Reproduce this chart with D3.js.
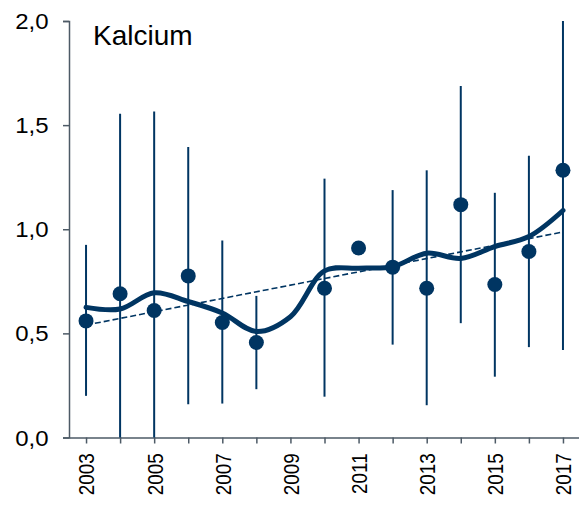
<!DOCTYPE html>
<html>
<head>
<meta charset="utf-8">
<script src="https://cdn.jsdelivr.net/npm/d3@7"></script>
<style>
  body { margin: 0; background: #fff; }
  text { font-family: Arial, "Liberation Sans", sans-serif; }
</style>
</head>
<body>
<div id="chart"></div>
<script>
// data
const years = [2003, 2004, 2005, 2006, 2007, 2008, 2010, 2011, 2012, 2013, 2014, 2015, 2016, 2017];
const means = [0.56, 0.69, 0.61, 0.776, 0.552, 0.456, 0.717, 0.91, 0.818, 0.717, 1.118, 0.735, 0.893, 1.283];
const upper = [0.925, 1.555, 1.566, 1.395, 0.946, 0.68, 1.243, null, 1.188, 1.283, 1.688, 1.175, 1.353, 2.0];
const lower = [0.20, 0, 0, 0.16, 0.163, 0.232, 0.196, null, 0.446, 0.155, 0.549, 0.292, 0.434, 0.42];

const smoothYears = [2003, 2004, 2005, 2006, 2007, 2008, 2009, 2010, 2011, 2012, 2013, 2014, 2015, 2016, 2017];
const smoothVals = [0.625, 0.617, 0.695, 0.653, 0.598, 0.509, 0.58, 0.80, 0.813, 0.82, 0.885, 0.86, 0.917, 0.965, 1.09];

const trendYears = [2003, 2017];
const trendVals = [0.54, 0.987];

const yTicks = [0, 0.5, 1.0, 1.5, 2.0];
const xTicks = d3.range(2003, 2018);
const xLabels = [2003, 2005, 2007, 2009, 2011, 2013, 2015, 2017];

// config
const width = 579;
const height = 506;
const navy = "#003562";
const axisColor = "#4d5a66";
const squeeze = 0.84; // year labels look narrower than the y labels

const x = d3.scaleLinear().domain([2002.5, 2017.5]).range([69, 580]);
const y = d3.scaleLinear().domain([0, 2]).range([437.5, 21]);

const svg = d3.select("#chart").append("svg")
  .attr("width", width)
  .attr("height", height);

// axes
const yAxis = svg.append("g")
  .attr("transform", "translate(69,0)")
  .call(d3.axisLeft(y).tickValues(yTicks).tickSize(6).tickPadding(14.5)
    .tickFormat(d => d3.format(".1f")(d).replace(".", ",")));
yAxis.selectAll("text")
  .style("font-size", "24px")
  .attr("fill", "#000")
  .attr("transform", "scale(1,0.9)")
  .attr("y", function() { return 0; })
  .attr("dy", "0.35em");
// keep the squeezed labels centred on their ticks
yAxis.selectAll(".tick").each(function(d) {
  d3.select(this).select("text").attr("y", 0);
});

const xAxis = svg.append("g")
  .attr("transform", "translate(0,437.5)")
  .call(d3.axisBottom(x).tickValues(xTicks).tickSize(6).tickSizeOuter(0)
    .tickFormat(d => xLabels.includes(d) ? d : ""));
xAxis.selectAll("text")
  .style("font-size", "22.5px")
  .attr("fill", "#000")
  .attr("text-anchor", "end")
  .attr("transform", `rotate(-90) scale(${squeeze},1)`)
  .attr("x", -15.8 / squeeze)
  .attr("y", 0)
  .attr("dy", "0.35em");

svg.selectAll(".domain, .tick line")
  .attr("stroke", axisColor)
  .attr("stroke-width", 1.5);

// title
svg.append("text")
  .attr("x", 93)
  .attr("y", 45)
  .style("font-size", "28px")
  .attr("fill", "#000")
  .text("Kalcium");

// error bars
const points = years.map((yr, i) => ({ year: yr, mean: means[i], hi: upper[i], lo: lower[i] }));
svg.append("g").selectAll("line")
  .data(points.filter(d => d.hi !== null))
  .enter().append("line")
  .attr("x1", d => x(d.year))
  .attr("x2", d => x(d.year))
  .attr("y1", d => y(d.hi))
  .attr("y2", d => y(d.lo))
  .attr("stroke", navy)
  .attr("stroke-width", 2);

// trend line
svg.append("path")
  .datum(trendYears.map((yr, i) => [yr, trendVals[i]]))
  .attr("d", d3.line().x(d => x(d[0])).y(d => y(d[1])))
  .attr("fill", "none")
  .attr("stroke", navy)
  .attr("stroke-width", 1.6)
  .attr("stroke-dasharray", "6,3");

// smoothed line
svg.append("path")
  .datum(smoothYears.map((yr, i) => [yr, smoothVals[i]]))
  .attr("d", d3.line().x(d => x(d[0])).y(d => y(d[1])).curve(d3.curveCatmullRom.alpha(0.5)))
  .attr("fill", "none")
  .attr("stroke", navy)
  .attr("stroke-width", 5)
  .attr("stroke-linecap", "round");

// dots
svg.append("g").selectAll("circle")
  .data(points)
  .enter().append("circle")
  .attr("cx", d => x(d.year))
  .attr("cy", d => y(d.mean))
  .attr("r", 7.5)
  .attr("fill", navy);
</script>
</body>
</html>
